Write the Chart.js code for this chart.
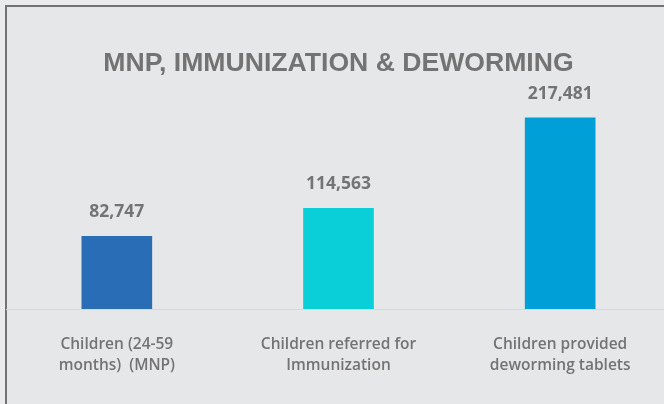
<!DOCTYPE html>
<html lang="en">
<head>
<meta charset="UTF-8">
<title>MNP, Immunization & Deworming</title>
<style>
  html, body { margin: 0; padding: 0; background: #ebebed; overflow: hidden; }
  .frame {
    position: absolute; left: 5px; top: 5px; width: 800px; height: 500px;
    border-left: 2px solid #737373; border-top: 2px solid #737373;
    background: #e6e7e9;
  }
  .chart-box { position: absolute; left: 0; top: 0; width: 677px; height: 404px; }
</style>
</head>
<body>
<div class="frame"></div>
<div class="chart-box"><canvas id="chart"></canvas></div>
<script src="https://cdn.jsdelivr.net/npm/chart.js"></script>
<script>
const categories = [
  ['Children (24-59', 'months)  (MNP)'],
  ['Children referred for', 'Immunization'],
  ['Children provided', 'deworming tablets']
];
const values = [82747, 114563, 217481];
const barColors = ['#2a6db7', '#0bcfd8', '#009fd8'];

// draws the value above each bar
const valueLabels = {
  id: 'valueLabels',
  afterDatasetsDraw(chart) {
    const ctx = chart.ctx;
    const meta = chart.getDatasetMeta(0);
    ctx.save();
    ctx.font = 'bold 17.5px "Open Sans"';
    ctx.fillStyle = '#747474';
    ctx.textAlign = 'center';
    ctx.textBaseline = 'alphabetic';
    meta.data.forEach((bar, i) => {
      ctx.fillText(values[i].toLocaleString('en-US'), bar.x, bar.y - 19);
    });
    ctx.restore();
  }
};

new Chart(document.getElementById('chart'), {
  type: 'bar',
  data: {
    labels: categories,
    datasets: [{
      data: values,
      backgroundColor: barColors,
      barThickness: 70
    }]
  },
  options: {
    responsive: true,
    maintainAspectRatio: false,
    animation: false,
    layout: { padding: { left: 6, right: 6, top: 0, bottom: 0 } },
    plugins: {
      legend: { display: false },
      tooltip: { enabled: false },
      title: {
        display: true,
        text: 'MNP, IMMUNIZATION & DEWORMING',
        color: '#737373',
        font: { family: '"Liberation Sans", Arial, sans-serif', size: 26.6, weight: 'bold', lineHeight: 1.2 },
        padding: { top: 48, bottom: 11 }
      }
    },
    scales: {
      x: {
        grid: { display: false, drawTicks: false },
        border: { display: true, color: '#d8d9db', width: 1 },
        ticks: {
          color: '#737373',
          padding: 25,
          font: { family: '"Open Sans"', size: 15.5, weight: '600', lineHeight: 1.36 }
        },
        afterFit(scale) { scale.height = 95; }
      },
      y: {
        display: false,
        min: 0,
        max: 248000
      }
    }
  },
  plugins: [valueLabels]
});
</script>
</body>
</html>
